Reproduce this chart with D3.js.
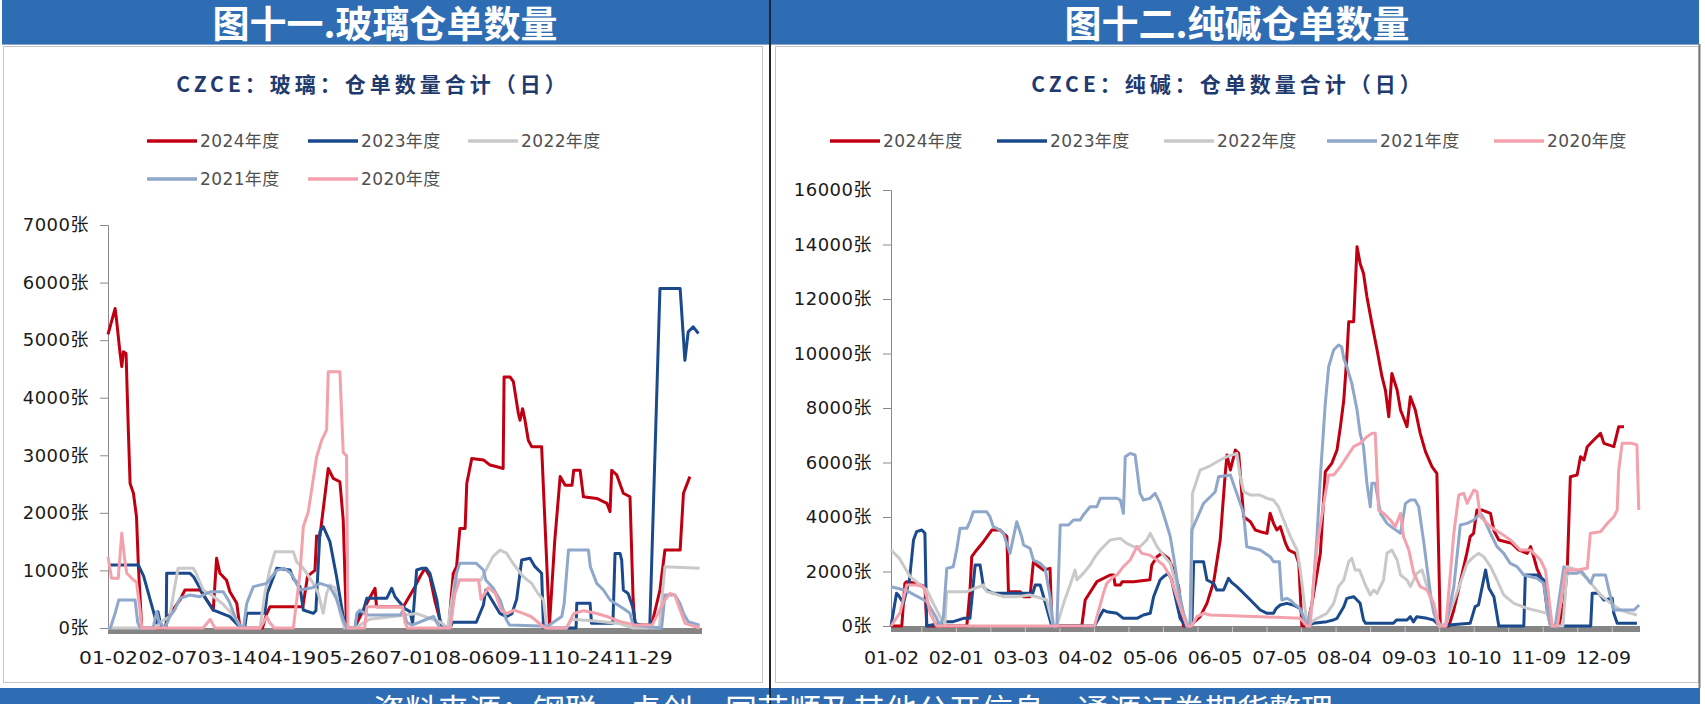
<!DOCTYPE html>
<html><head><meta charset="utf-8">
<script src="https://cdn.jsdelivr.net/npm/d3@7"></script>
<style>
html,body{margin:0;padding:0;background:#fff;}
svg{display:block;}
</style></head>
<body>
<svg id="c" width="1705" height="704"></svg>
<script>
// ---------------- DATA ----------------
const seriesNames = ["2024年度","2023年度","2022年度","2021年度","2020年度"];
const glassXLabels = ["01-02","02-07","03-14","04-19","05-26","07-01","08-06","09-11","10-24","11-29"];
const sodaXLabels  = ["01-02","02-01","03-03","04-02","05-06","06-05","07-05","08-04","09-03","10-10","11-09","12-09"];
const glassYTicks = [0,1000,2000,3000,4000,5000,6000,7000];
const sodaYTicks  = [0,2000,4000,6000,8000,10000,12000,14000,16000];
const unitSuffix = "张";

// glass: [trading-day index, 仓单数量]
const glass2024 = [[0,5100],[3,5550],[3.6,5350],[5,4800],[5.8,4540],[6.5,4800],[7.6,4770],[8.6,3380],[9.3,2510],[10.7,2340],[12,1930],[12.8,1065],[14.2,0],[24,0],[25.4,200],[30.3,490],[32.4,660],[38.7,660],[41.5,490],[44.3,310],[45.7,1210],[47.1,950],[49.9,830],[51.3,630],[54.2,430],[55.3,80],[56,0],[65,0],[66.8,250],[68.2,370],[82,370],[84,900],[87.1,1000],[87.8,1600],[89.2,1600],[92.7,2770],[94.8,2600],[97.6,2540],[99,1875],[100.4,0],[104,0],[104.7,80],[109.6,486],[112.4,690],[113,370],[124.3,370],[129.2,718],[131.3,890],[133.4,1036],[135.5,890],[137.5,486],[139.7,140],[141,0],[143.5,0],[144,312],[145.3,950],[146.7,1065],[148.1,1730],[150.3,1730],[151,2510],[153.1,2945],[158,2920],[160.8,2830],[163.7,2800],[166.3,2770],[166.7,4360],[169.2,4360],[170.6,4280],[172.7,3730],[173.4,3610],[174.5,3810],[175.5,3610],[176.9,3260],[178.3,3150],[182.5,3150],[185.8,50],[188,1500],[190.3,2630],[192.4,2480],[195.3,2480],[196,2740],[198.7,2740],[200.1,2280],[205.7,2250],[210,2165],[211.3,2020],[212,2740],[214.1,2660],[216.9,2340],[219.7,2280],[221,500],[221.8,50],[228.8,50],[232.3,660],[234.4,1354],[240.8,1354],[242.2,2340],[244.9,2630]];
const glass2023 = [[0,1094],[12.8,1094],[15,900],[20.5,81],[21,284],[22,100],[23,0],[24.5,0],[24.7,950],[34.5,950],[36,890],[41.5,486],[44.3,312],[46,284],[51.3,197],[54,81],[56,0],[57.5,0],[58.4,255],[66,255],[67,600],[71,1036],[76.6,1007],[78,860],[80.8,718],[82.2,312],[86.4,255],[87.5,300],[89.2,1672],[90.6,1760],[93.4,1500],[96.2,890],[99,197],[100.4,0],[104,0],[104.7,197],[107.5,312],[108.9,515],[117.3,515],[119.4,690],[120.8,544],[124.9,340],[127.1,284],[128.2,81],[129.9,1007],[132,1036],[134,1036],[135.5,950],[138.4,486],[139.7,139],[141,0],[144,0],[145,100],[155,100],[158,400],[159,660],[162,457],[164.9,255],[167.7,197],[170,250],[172,500],[174.1,1180],[177.6,1210],[179.7,1065],[182.5,950],[183.3,0],[197,0],[197.3,430],[202.9,430],[203.5,81],[212.5,81],[213.4,1296],[215.5,1296],[216.2,1180],[216.9,660],[218.9,600],[220.8,370],[222,81],[228,0],[232.3,5897],[240.8,5897],[242.8,4650],[244.2,5145],[246.3,5230],[248.5,5115]];
const glass2022 = [[0,0],[20,0],[22,100],[26,200],[28,700],[29.5,1036],[35.9,1036],[37,960],[40.1,660],[44,560],[48,430],[51,300],[54.2,140],[56,0],[64,0],[66,600],[68,1000],[70.3,1325],[78,1325],[79.4,1150],[82,1050],[86.4,775],[88.5,600],[90.6,255],[92,600],[93.4,746],[95.5,700],[97.5,300],[99.5,0],[104,0],[110,150],[120,200],[130,250],[140,100],[143,0],[144,300],[146,833],[157,833],[159,1000],[162,1240],[165,1354],[167.7,1300],[170.5,1120],[174.8,890],[178.3,775],[181,600],[183.3,486],[184.7,0],[193,0],[195,150],[205,120],[215,80],[221,0],[232,0],[234.4,1065],[249,1036]];
const glass2021 = [[0,0],[1,0],[3,255],[4.5,486],[11.4,486],[12.5,100],[13.5,0],[19,0],[20.5,284],[21.5,100],[24,0],[26,200],[28,312],[30.3,516],[34.5,573],[38.7,544],[43,630],[48.5,630],[51,460],[54,140],[56,0],[57,0],[58.4,430],[61.2,718],[66.8,775],[68.9,890],[71,1000],[74,1036],[77,950],[80.8,660],[86,700],[89.2,775],[93.4,718],[96,520],[99,140],[100.4,0],[104,0],[104.7,255],[106,312],[108.9,226],[123,226],[124.3,312],[125.7,100],[128,50],[137,200],[139.7,0],[144,0],[146.7,950],[148,1123],[155,1123],[158,1007],[159,833],[162,700],[165,486],[166.4,312],[167.7,139],[169,50],[185,30],[191,200],[192,430],[193.8,1354],[202.2,1354],[203,1065],[205.7,775],[208.5,660],[211.3,486],[216.9,340],[219.7,255],[221,50],[233,0],[234.4,573],[238.6,573],[240.7,430],[242.2,255],[244.2,110],[249,50]];
const glass2020 = [[0,1238],[1.5,862],[4.3,862],[5.8,1650],[7,1200],[7.9,950],[10.7,833],[12,800],[13.5,300],[14.2,0],[40,0],[43,150],[45,0],[64,0],[66.8,197],[68,100],[70,0],[78,0],[80.8,950],[82.2,1760],[84.3,2020],[87.8,2970],[89.9,3260],[92,3440],[92.7,4450],[97.6,4450],[99,3050],[100.4,2990],[101,0],[108,0],[109,370],[124,370],[125,100],[126,0],[144,0],[146,600],[148,833],[156,833],[157,500],[160,700],[163,600],[165.5,312],[168,250],[171,312],[175,250],[178,200],[184,0],[193,0],[196,250],[200,300],[205,260],[210,200],[215,120],[222,50],[229,50],[231.5,255],[234.4,486],[236.5,600],[238.6,570],[240.8,312],[242.9,80],[249,0]];

// soda ash: [trading-day index, 仓单数量]
const soda2024 = [[0,0],[3.5,0],[4.5,1565],[5.1,1627],[8.3,1565],[11,1443],[11.6,0],[24.6,0],[25.6,1260],[26.2,2544],[27.8,2790],[30,3094],[32.7,3522],[35.4,3522],[37.6,3278],[38.1,1260],[41.9,1260],[43,1076],[45.1,1076],[46.2,2360],[47.3,2238],[49.5,2055],[51.6,2116],[52.2,0],[61.9,0],[63,954],[66.8,1627],[71.1,1871],[72.2,1871],[72.7,1504],[74.4,1504],[75,1627],[78.7,1627],[84,1700],[84.6,2238],[86.3,2544],[87.9,2666],[90,2483],[91.7,2055],[93.3,1443],[94.9,0],[97,0],[100.3,342],[102.5,832],[104.7,1627],[106.8,3155],[108.4,5540],[109,6274],[110.1,5724],[111.7,6457],[112.8,6335],[114.4,4011],[116.6,3828],[118.2,3522],[119.8,3461],[122,3400],[123,4134],[124.1,3767],[125.2,3522],[126.3,3645],[128,3033],[129,2790],[131.2,2666],[132.3,2300],[133.3,0],[135,0],[136.6,832],[139.3,2666],[140.9,5662],[143,5968],[144.7,6457],[145.8,7313],[146.9,8292],[147.9,9882],[148.5,11166],[150.1,11166],[151.2,13918],[152.2,13306],[153.3,12939],[154.4,12083],[156,11105],[157.7,10126],[159.3,9148],[160.4,8659],[161.5,7680],[162.5,9270],[164.2,8659],[165.3,7925],[167.4,7313],[168.5,8414],[170.1,7925],[171.7,7069],[173.4,6396],[175.5,5846],[177.1,5601],[178.2,0],[181,0],[182.6,587],[186.8,2666],[187.9,3278],[189,3400],[190.1,4256],[191.8,4256],[194.5,4134],[195.6,3500],[197.2,3155],[199.4,3094],[201.4,3033],[203.6,2790],[206.4,2666],[207.5,2911],[208.5,2544],[209.6,2100],[211.8,1565],[213,500],[214,0],[216.6,0],[218.3,832],[219.4,2055],[220.4,5479],[222.6,5540],[223.7,6213],[224.8,6091],[225.9,6580],[228,6825],[230.2,7069],[231.3,6702],[234.5,6580],[236.1,7313],[237.8,7313]];
const soda2023 = [[0,0],[1.8,1200],[2.4,1137],[4,832],[6,1700],[7.3,3155],[8.3,3461],[10,3522],[11,3400],[11.6,0],[15.9,100],[17,160],[20.2,160],[23.5,280],[25.6,280],[26.2,954],[27.3,2238],[28.9,2238],[30,1443],[31,1320],[33.2,1200],[46,1200],[46.8,1504],[48.4,1504],[49.5,1076],[51.6,220],[52.2,0],[66,0],[68.9,587],[70,526],[73.3,465],[75.4,280],[79.8,280],[81.9,404],[84.1,465],[85.2,1076],[87.3,1688],[88.4,1810],[90,1932],[91,1700],[93.8,280],[95.5,0],[97.6,0],[98.2,2360],[101.4,2360],[102.5,1688],[104.7,1565],[105.7,1320],[107.9,1320],[109.5,1749],[110.5,1600],[112.2,1443],[114.4,1200],[116.6,954],[119.8,587],[122,465],[124.1,465],[125,648],[126.3,770],[128.4,832],[130.5,770],[132.7,648],[133.8,281],[135,0],[137,98],[141.4,159],[143.5,220],[144.7,281],[146.9,709],[147.9,1015],[150.1,1076],[151.2,954],[152.2,832],[153.3,220],[154,98],[163,98],[164,220],[167.4,220],[168.5,342],[169.5,150],[170.6,342],[173.9,281],[176,220],[178,0],[182,50],[187.9,98],[189.5,709],[190.6,770],[191.8,1443],[192.9,2055],[194,1382],[195.6,1076],[197.2,0],[205.3,0],[205.8,1871],[209.6,1871],[211.8,1688],[212.9,1443],[214,0],[227,0],[227.5,1200],[229.7,1200],[231.3,954],[234,1015],[234.5,465],[235.6,98],[242,98]];
const soda2022 = [[0,2790],[2.7,2483],[6.2,1810],[11.6,1320],[13.7,832],[15.9,342],[17.5,98],[18.1,1260],[24.6,1260],[30,1504],[31,1260],[33,1200],[36.5,1076],[40.8,1076],[45,1137],[47,1076],[50.5,954],[51.6,465],[52.7,0],[53.8,0],[56,832],[58.1,1504],[59.7,2055],[60.3,1688],[62.4,1932],[64.6,2238],[66.2,2544],[67.9,2790],[69.5,2972],[71.1,3155],[74.4,3216],[76.5,3033],[78.7,2911],[80.8,2911],[83,3155],[84.1,3400],[85.2,3155],[86.3,2911],[87.9,2666],[90.6,2300],[92.7,1443],[94.9,465],[96.5,0],[97.2,0],[97.8,4868],[100.3,5724],[103,5846],[106.8,6091],[109,6213],[112.2,6335],[113.3,5479],[114.4,4929],[116.6,4806],[119.8,4806],[122,4684],[124.1,4623],[125.7,4378],[127.4,3890],[129.6,3278],[131.7,2790],[132.8,2055],[135,0],[137,200],[141.4,465],[143.6,832],[145.2,1443],[146.9,1688],[148.5,2360],[149.5,2483],[150.6,2055],[152,2055],[153.9,1504],[155.5,1137],[156.6,1320],[157.7,1200],[159.8,1688],[160.9,2666],[162.5,2790],[164.2,2421],[165.3,1871],[167.4,1688],[168.5,1443],[170.6,1932],[172.3,2055],[173.9,1443],[176.1,587],[178.2,0],[180,98],[184.7,1565],[186.9,2300],[189.1,2544],[190.6,2666],[192.3,2544],[194.5,2177],[196.6,1688],[198.8,1137],[202.1,832],[206.4,648],[210.7,526],[212.9,465],[214,0],[218,0],[219.4,2177],[222.6,2055],[225.9,1749],[228,1443],[230.2,1137],[233.5,832],[236.7,587],[240,465],[242,404]];
const soda2021 = [[0,1443],[5,1300],[11.6,900],[14.8,281],[15.9,0],[17,342],[18.1,2116],[20.2,2177],[21.3,2790],[22.4,3583],[24.6,3583],[25.6,3828],[26.7,4195],[31,4195],[32.1,4011],[33.2,3645],[35.4,3522],[36.5,3400],[38.6,2666],[40.8,3828],[42.4,3278],[43,2972],[45.1,2850],[46.2,2421],[48.4,2300],[50,2116],[51.6,1076],[52.7,0],[53.8,0],[54.9,3706],[57.6,3706],[59.2,3890],[61.4,3890],[62.4,4073],[64.6,4378],[66.8,4378],[67.9,4684],[73.3,4684],[74.4,4623],[75.4,4134],[76,6213],[77.6,6335],[79.2,6274],[80.8,4868],[81.9,4623],[84,4684],[85.7,4868],[87.3,4500],[89,3890],[90.6,3278],[91.7,2544],[93.3,1320],[94.9,465],[96,0],[97,0],[97.6,3522],[101.4,4500],[103.6,4745],[105.2,4929],[106.3,5479],[110.1,5540],[113.3,4500],[114.4,4134],[115.4,2911],[119.8,2790],[123,2544],[124.1,2360],[126,2360],[126.8,954],[128.4,1015],[129.5,954],[130.6,832],[132.7,648],[135,0],[136.6,832],[138.2,3278],[139.3,5479],[140.9,8170],[142,9515],[143.6,10126],[145.2,10310],[146.2,10249],[146.9,9821],[147.9,9515],[149.5,8903],[151.2,7925],[152.2,7069],[153.3,6580],[154.4,5235],[155.5,4378],[156,5235],[157.1,5235],[158.8,4134],[160.9,3767],[163,3583],[165.3,3400],[166.9,4500],[168.5,4623],[170,4623],[171.2,4378],[172.9,3033],[174,2055],[175,1200],[176.1,465],[177.7,0],[180,0],[182.6,1443],[184.7,3706],[186.9,3767],[189.1,3890],[191.2,4134],[192.3,3950],[194.5,3400],[196.6,2911],[198.8,2666],[200.9,2300],[203.1,2177],[205.3,1871],[207.5,1810],[209.6,1749],[211.8,1565],[213,550],[214,0],[215.5,0],[218.3,2177],[219.4,1932],[222.6,1932],[223.7,2055],[227,1565],[228,1871],[231.8,1871],[232.9,1320],[234.5,587],[241.1,587],[242.7,770]];
const soda2020 = [[0,0],[3,500],[5.1,1504],[8.3,1504],[10.5,1443],[11.6,1076],[12.7,465],[14.8,0],[66,0],[68.9,1200],[70,1565],[72.2,1810],[73.3,1871],[75.4,2177],[77.6,2421],[79.8,2911],[81.4,2666],[84,2600],[86.3,2421],[88.4,2238],[90.6,1810],[92.7,1076],[94.9,342],[96,0],[97.6,0],[99.2,342],[101.4,465],[103.6,404],[119.8,342],[132.7,281],[135,0],[136,0],[137,1443],[138.2,2911],[140.4,4500],[142,5540],[143.6,5540],[145.8,5846],[147.9,6213],[150.1,6580],[152.2,6702],[154.4,6946],[156,7069],[157.1,7069],[158.2,4256],[159.8,4134],[162,3890],[163.6,3645],[165.3,4134],[166.3,3278],[168,2790],[169.6,1932],[171.7,1443],[173.9,1320],[176.1,832],[177.7,0],[180,0],[182.6,3400],[184.2,4806],[185.8,4868],[186.9,4500],[189.1,4990],[190.1,4929],[191.2,4011],[192.3,3890],[194.5,3645],[197.8,3400],[201,3155],[204.2,2790],[207.5,2790],[210.7,2421],[212.3,2055],[213.4,1076],[214.5,0],[216.2,0],[218.8,2055],[222.6,2055],[225.9,2116],[226.9,3400],[230.2,3461],[232.4,3767],[234.5,4011],[235.6,4256],[236.1,5724],[237.2,6702],[240.4,6702],[242,6641],[242.6,4256]];

// ---------------- STYLE / LAYOUT ----------------
const colors = ["#C00012","#1A4A8C","#C9C9C9","#8EA7CA","#F3A1AC"];
const headerBlue = "#2E6DB4";
const axisFont = "'DejaVu Sans','Noto Sans CJK SC',sans-serif";
const cjkFont = "'Noto Sans CJK SC','Noto Sans CJK JP',sans-serif";

const svg = d3.select("#c");
svg.append("rect").attr("width",1705).attr("height",704).attr("fill","#fff");

// header / footer bars
svg.append("rect").attr("x",2).attr("y",0).attr("width",1697).attr("height",44).attr("fill",headerBlue);
svg.append("rect").attr("x",0).attr("y",688).attr("width",1700).attr("height",16).attr("fill",headerBlue);
svg.append("line").attr("x1",2).attr("x2",1699).attr("y1",44.5).attr("y2",44.5).attr("stroke","#8aa4c4").attr("stroke-width",1);

// panel frames
svg.append("rect").attr("x",3.5).attr("y",46.5).attr("width",759).attr("height",636).attr("fill","none").attr("stroke","#c4c4c4");
svg.append("rect").attr("x",775.5).attr("y",46.5).attr("width",923).attr("height",636).attr("fill","none").attr("stroke","#c4c4c4");
svg.append("line").attr("x1",1699.5).attr("x2",1699.5).attr("y1",44).attr("y2",688).attr("stroke","#7a7a7a").attr("stroke-width",2);
// divider
svg.append("line").attr("x1",770).attr("x2",770).attr("y1",0).attr("y2",704).attr("stroke","#1d2733").attr("stroke-width",2);

// header titles
svg.append("text").attr("x",385).attr("y",38).attr("text-anchor","middle")
  .attr("font-family",cjkFont).attr("font-weight",700).attr("font-size",37).attr("fill","#fff").text("图十一.玻璃仓单数量");
svg.append("text").attr("x",1237).attr("y",38).attr("text-anchor","middle")
  .attr("font-family",cjkFont).attr("font-weight",700).attr("font-size",37).attr("fill","#fff").text("图十二.纯碱仓单数量");
// footer text (cut by bottom edge, as in the reference)
svg.append("text").attr("x",853).attr("y",722).attr("text-anchor","middle")
  .attr("font-family",cjkFont).attr("font-size",32).attr("fill","#fff")
  .text("资料来源：钢联，卓创，同花顺及其他公开信息，通源证券期货整理");

function drawChart(cfg){
  const g = svg.append("g");
  const x = d3.scaleLinear().domain(cfg.xDomain).range(cfg.xRange);
  const y = d3.scaleLinear().domain(cfg.yDomain).range(cfg.yRange);

  // title
  g.append("text").attr("x",cfg.titleX).attr("y",92).attr("text-anchor","middle")
    .attr("font-family",cjkFont).attr("font-weight",700).attr("font-size",21)
    .attr("letter-spacing",4).attr("fill","#1F3A6E").text(cfg.title);

  // legend
  cfg.legendPos.forEach((p,i)=>{
    const lg = g.append("g").attr("transform",`translate(${p[0]},${p[1]})`);
    lg.append("line").attr("x1",0).attr("x2",50).attr("y1",0).attr("y2",0)
      .attr("stroke",colors[i]).attr("stroke-width",3.5);
    lg.append("text").attr("x",53).attr("y",0).attr("dy","0.36em")
      .attr("font-family",axisFont).attr("font-size",17).attr("letter-spacing",0.4)
      .attr("fill","#505050").text(seriesNames[i]);
  });

  // y axis
  const yAxis = d3.axisLeft(y).tickValues(cfg.yTicks).tickSize(8).tickPadding(11)
    .tickFormat(d=>d+unitSuffix);
  const ya = g.append("g").attr("transform",`translate(${cfg.xRange[0]},0)`).call(yAxis);
  ya.select(".domain").attr("stroke","#8a8a8a");
  ya.selectAll(".tick line").attr("stroke","#8a8a8a");
  ya.selectAll(".tick text").attr("font-family",axisFont).attr("font-size",18)
    .attr("fill","#1a1a1a").attr("letter-spacing",0.5);

  // x axis band
  g.append("rect").attr("x",cfg.xRange[0]).attr("y",cfg.yRange[0])
    .attr("width",cfg.xRange[1]-cfg.xRange[0]).attr("height",6).attr("fill","#858585");
  if(cfg.minorTicks){
    g.selectAll(".mt").data(cfg.minorTicks).enter().append("line")
      .attr("x1",d=>x(d)).attr("x2",d=>x(d)).attr("y1",cfg.yRange[0]+1).attr("y2",cfg.yRange[0]+6)
      .attr("stroke","#c8c8c8").attr("stroke-width",1);
  }
  // x labels
  const xa = d3.axisBottom(x).tickValues(cfg.xLabels.map((d,i)=>i*cfg.labelStep))
    .tickSize(0).tickPadding(0).tickFormat((d,i)=>cfg.xLabels[i]);
  const xg = g.append("g").attr("transform",`translate(0,${cfg.labelY})`).call(xa);
  xg.select(".domain").remove();
  xg.selectAll(".tick text").attr("font-family",axisFont).attr("font-size",18)
    .attr("fill","#1a1a1a").attr("dy",0)
    .attr("textLength",cfg.labelWidth).attr("lengthAdjust","spacingAndGlyphs");

  // lines (2020 drawn last = on top)
  const line = d3.line().x(d=>x(d[0])).y(d=>y(d[1]));
  cfg.series.forEach((s,i)=>{
    g.append("path").datum(s).attr("d",line).attr("fill","none")
      .attr("stroke",colors[i]).attr("stroke-width",3).attr("stroke-linejoin","round");
  });
}

drawChart({
  title:"CZCE：玻璃：仓单数量合计（日）", titleX:373,
  xDomain:[0,250], xRange:[108,702], yDomain:[0,7000], yRange:[628,225],
  yTicks:glassYTicks, xLabels:glassXLabels, labelStep:25, labelY:664, labelWidth:59,
  legendPos:[[147,141],[308,141],[468,141],[147,179],[308,179]],
  series:[glass2024,glass2023,glass2022,glass2021,glass2020]
});
drawChart({
  title:"CZCE：纯碱：仓单数量合计（日）", titleX:1228,
  xDomain:[0,243], xRange:[891,1640], yDomain:[0,16000], yRange:[626,190],
  yTicks:sodaYTicks, xLabels:sodaXLabels, labelStep:21, labelY:664, labelWidth:55,
  legendPos:[[830,141],[997,141],[1164,141],[1327,141],[1494,141]],
  minorTicks:d3.range(10,243,11.2),
  series:[soda2024,soda2023,soda2022,soda2021,soda2020]
});
</script>
</body></html>
